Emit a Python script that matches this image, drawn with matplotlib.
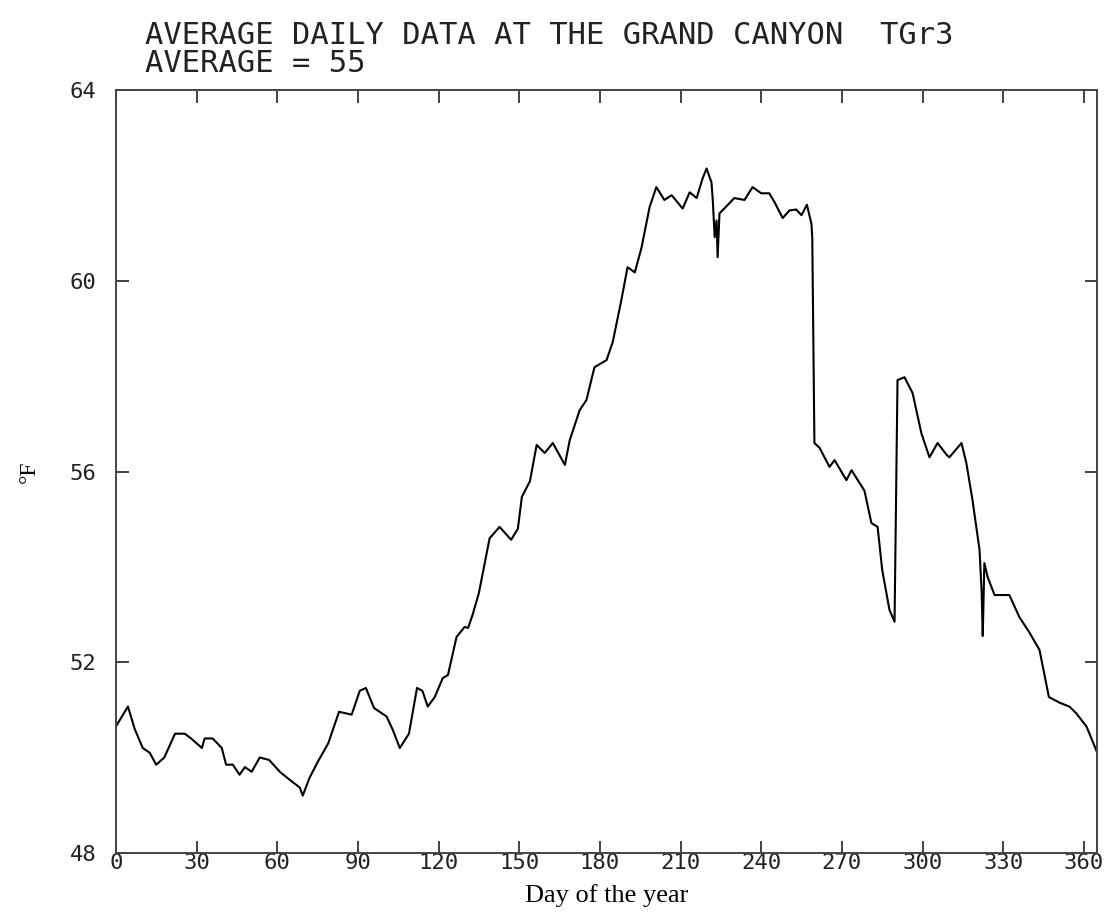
import matplotlib
matplotlib.use("Agg")
import matplotlib.pyplot as plt

# day of year and daily average temperature (F)
days = [0, 4.5, 7, 10, 12.6, 15, 18, 22, 25.6, 28, 32, 33, 36, 39.4, 41,
        43.5, 46, 48, 50.5, 53.5, 57, 61, 64.7, 68.4, 69.5, 72, 75, 79,
        83, 87.7, 90.7, 93, 96, 100.7, 103, 105.6, 109, 112, 114, 116,
        118.6, 121.6, 123.5, 126.7, 129.7, 131, 132.7, 135, 139, 142.7,
        147, 149.5, 151, 154, 156.5, 159.5, 162.5, 167, 168.8, 172.5, 175,
        178, 182.5, 184.8, 188, 190.3, 193, 195.5, 198.5, 201, 204, 206.7,
        210.8, 213.4, 216, 218.2, 219.7, 221.5, 222, 222.7, 223.4, 223.8,
        224.5, 225.6, 230, 233.8, 236.8, 240, 243, 245, 248, 250.5, 253,
        255, 257, 258.7, 259, 259.8, 261.7, 265.4, 267.3, 271.7, 273.6,
        278.4, 281, 283.3, 285, 287.7, 289.6, 290.7, 293.3, 296.3, 299.6,
        302.6, 305.6, 309, 310, 314.5, 316.3, 318.6, 321.2, 322, 322.4,
        323, 324.2, 326.8, 332.3, 336, 339.8, 343.5, 347, 351, 354.6, 357,
        361, 365]
temps = [50.65, 51.07, 50.6, 50.2, 50.1, 49.85, 50.0, 50.5, 50.5, 50.4,
         50.2, 50.4, 50.4, 50.2, 49.85, 49.85, 49.64, 49.8, 49.7, 50.0,
         49.95, 49.7, 49.53, 49.37, 49.2, 49.57, 49.9, 50.3, 50.96, 50.9,
         51.4, 51.46, 51.04, 50.86, 50.58, 50.2, 50.5, 51.46, 51.4, 51.07,
         51.27, 51.67, 51.73, 52.53, 52.74, 52.72, 53.0, 53.45, 54.6, 54.84,
         54.57, 54.8, 55.47, 55.8, 56.56, 56.39, 56.6, 56.14, 56.66, 57.29,
         57.5, 58.19, 58.34, 58.72, 59.6, 60.29, 60.18, 60.7, 61.55, 61.97,
         61.7, 61.8, 61.52, 61.86, 61.74, 62.15, 62.36, 62.07, 61.7, 60.92,
         61.27, 60.5, 61.42, 61.48, 61.74, 61.7, 61.97, 61.84, 61.84, 61.65,
         61.32, 61.48, 61.5, 61.38, 61.6, 61.2, 60.9, 56.6, 56.5, 56.1,
         56.24, 55.82, 56.03, 55.6, 54.92, 54.84, 53.94, 53.1, 52.85, 57.92,
         57.98, 57.65, 56.8, 56.3, 56.6, 56.35, 56.3, 56.6, 56.18, 55.4,
         54.36, 53.46, 52.55, 54.08, 53.79, 53.41, 53.41, 52.95, 52.62,
         52.26, 51.27, 51.15, 51.07, 50.94, 50.65, 50.1]

x_ticks = list(range(0, 361, 30))
y_ticks = [48, 52, 56, 60, 64]

title_lines = ["AVERAGE DAILY DATA AT THE GRAND CANYON  TGr3",
               "AVERAGE = 55"]

mono = "DejaVu Sans Mono"
serif = "Liberation Serif"

fig = plt.figure(figsize=(11.14, 9.22), dpi=100)
ax = fig.add_axes([0.104, 0.075, 0.881, 0.827])

ax.plot(days, temps, color="black", linewidth=1.5)

ax.set_xlim(0, 365)
ax.set_ylim(48, 64)
ax.set_xticks(x_ticks)
ax.set_yticks(y_ticks)
ax.tick_params(direction="in", top=True, right=True, length=9, width=1.2,
               colors="#222222")
ax.tick_params(axis="x", labelsize=16, pad=0)
ax.tick_params(axis="y", labelsize=16, pad=14)
for lab in ax.get_xticklabels() + ax.get_yticklabels():
    lab.set_fontfamily(mono)
for sp in ax.spines.values():
    sp.set_linewidth(1.4)
    sp.set_color("#444444")

ax.set_xlabel("Day of the year", fontsize=19, family=serif, labelpad=8)
ax.set_ylabel("°F", fontsize=17, family=serif)
ax.yaxis.set_label_coords(-0.077, 0.5)

# both title lines in one text block, tight line spacing like the plotter
fig.text(0.13, 0.922, "\n".join(title_lines), fontsize=22, family=mono,
         color="#222222", linespacing=0.95, va="baseline")

fig.savefig("out.png", dpi=100)
